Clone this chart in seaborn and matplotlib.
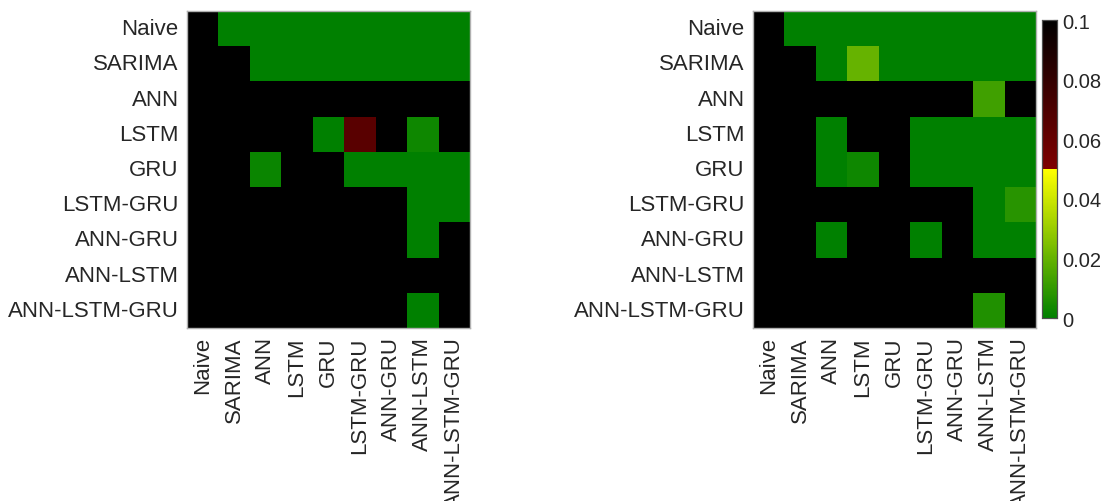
import numpy as np
import pandas as pd
import matplotlib
matplotlib.use("Agg")
import matplotlib.pyplot as plt
from matplotlib.colors import ListedColormap
import seaborn as sns

models = ["Naive", "SARIMA", "ANN", "LSTM", "GRU", "LSTM-GRU",
          "ANN-GRU", "ANN-LSTM", "ANN-LSTM-GRU"]
N = np.nan  # model compared with itself

# Diebold-Mariano p-values, row model vs column model (1.0 = not significant)
pvals_left = [
    [N,   0.0, 0.0,   0.0, 0.0, 0.0,   0.0, 0.0,   0.0],
    [1.0, N,   0.0,   0.0, 0.0, 0.0,   0.0, 0.0,   0.0],
    [1.0, 1.0, N,     1.0, 1.0, 1.0,   1.0, 1.0,   1.0],
    [1.0, 1.0, 1.0,   N,   0.0, 0.065, 1.0, 0.003, 1.0],
    [1.0, 1.0, 0.002, 1.0, N,   0.0,   0.0, 0.0,   0.0],
    [1.0, 1.0, 1.0,   1.0, 1.0, N,     1.0, 0.0,   0.0],
    [1.0, 1.0, 1.0,   1.0, 1.0, 1.0,   N,   0.0,   1.0],
    [1.0, 1.0, 1.0,   1.0, 1.0, 1.0,   1.0, N,     1.0],
    [1.0, 1.0, 1.0,   1.0, 1.0, 1.0,   1.0, 0.0,   N],
]

pvals_right = [
    [N,   0.0, 0.0, 0.0,   0.0, 0.0, 0.0, 0.0,    0.0],
    [1.0, N,   0.0, 0.02,  0.0, 0.0, 0.0, 0.0,    0.0],
    [1.0, 1.0, N,   1.0,   1.0, 1.0, 1.0, 0.0125, 1.0],
    [1.0, 1.0, 0.0, N,     1.0, 0.0, 0.0, 0.0,    0.0],
    [1.0, 1.0, 0.0, 0.003, N,   0.0, 0.0, 0.0,    0.0],
    [1.0, 1.0, 1.0, 1.0,   1.0, N,   1.0, 0.0,    0.008],
    [1.0, 1.0, 0.0, 1.0,   1.0, 0.0, N,   0.0,    0.0],
    [1.0, 1.0, 1.0, 1.0,   1.0, 1.0, 1.0, N,      1.0],
    [1.0, 1.0, 1.0, 1.0,   1.0, 1.0, 1.0, 0.0065, N],
]

cbar_ticks = [0, 0.02, 0.04, 0.06, 0.08, 0.1]
cbar_ticklabels = ["0", "0.02", "0.04", "0.06", "0.08", "0.1"]

# Significance colormap: green -> yellow below 0.05, dark red -> black above
n = 128
lower = np.column_stack([np.linspace(0, 1, n), np.linspace(0.5, 1, n),
                         np.zeros(n), np.ones(n)])
upper = np.column_stack([np.linspace(0.5, 0, n), np.zeros(n),
                         np.zeros(n), np.ones(n)])
cmap = ListedColormap(np.vstack([lower, upper]))
cmap.set_over("black")
cmap.set_bad("black")

sns.set_theme(style="white")
plt.rcParams["font.family"] = ["Liberation Sans", "DejaVu Sans"]

fig = plt.figure(figsize=(11.04, 5.02), dpi=100)
ax1 = fig.add_axes([0.1694, 0.3446, 0.2563, 0.6315])
ax2 = fig.add_axes([0.6821, 0.3446, 0.2563, 0.6315])
cax = fig.add_axes([0.9438, 0.3645, 0.0136, 0.5936])

for ax, vals, show_cbar in [(ax1, pvals_left, False), (ax2, pvals_right, True)]:
    df = pd.DataFrame(vals, index=models, columns=models)
    sns.heatmap(df, ax=ax, cmap=cmap, vmin=0, vmax=0.1,
                cbar=show_cbar, cbar_ax=cax if show_cbar else None,
                square=False, linewidths=0)
    ax.set_facecolor("black")
    ax.set_aspect("auto")
    ax.set_xticks(np.arange(len(models)) + 0.5)
    ax.set_yticks(np.arange(len(models)) + 0.5)
    ax.set_xticklabels(models, rotation=90, fontsize=16, color="#262626")
    ax.set_yticklabels(models, rotation=0, fontsize=16, color="#262626")
    ax.tick_params(axis="both", which="both", direction="in", length=4,
                   width=0.8, color="#505050", top=True, right=True,
                   labeltop=False, labelright=False, pad=6)
    for sp in ax.spines.values():
        sp.set_visible(True)
        sp.set_color("#b0b0b0")
        sp.set_linewidth(1.0)

cax.set_yticks(cbar_ticks)
cax.set_yticklabels(cbar_ticklabels, fontsize=14.5, color="#262626")
cax.tick_params(axis="y", direction="in", length=3, width=0.8,
                color="#505050", pad=4)
for sp in cax.spines.values():
    sp.set_visible(True)
    sp.set_color("#505050")
    sp.set_linewidth(0.8)

fig.savefig("out.png", dpi=100)
